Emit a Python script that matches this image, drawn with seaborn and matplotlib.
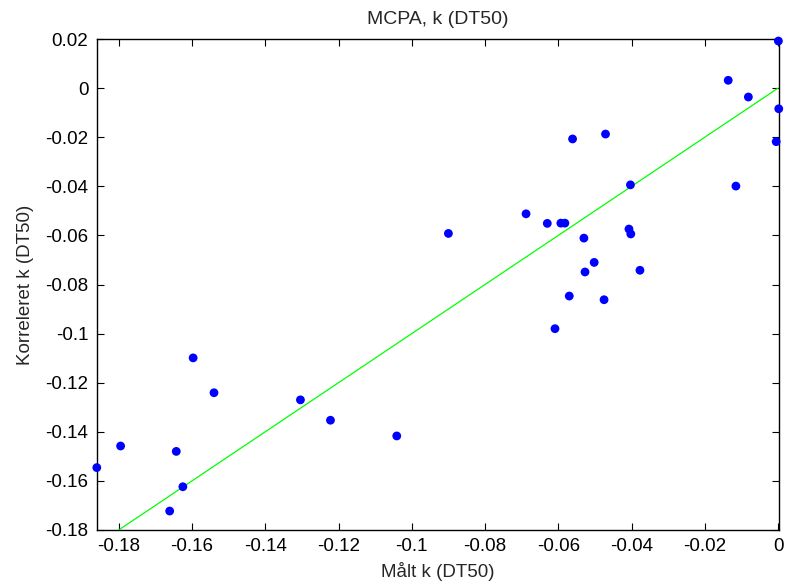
import matplotlib
matplotlib.use("Agg")
import matplotlib.pyplot as plt
import seaborn as sns
import pandas as pd

measured_k = [-0.186, -0.1795, -0.1597, -0.154, -0.1304, -0.1222, -0.1041, -0.1643,
              -0.1625, -0.1661, -0.090, -0.0688, -0.063, -0.0593, -0.0582, -0.0561,
              -0.0471, -0.0403, -0.053, -0.0407, -0.0402, -0.0502, -0.0527, -0.0377,
              -0.057, -0.0475, -0.0609, 0.0001, -0.0136, -0.0081, 0.0002, -0.0005,
              -0.0115]
correlated_k = [-0.1546, -0.1458, -0.1099, -0.1241, -0.1270, -0.1353, -0.1417, -0.1480,
                -0.1624, -0.1723, -0.0592, -0.0512, -0.0551, -0.0550, -0.0550, -0.0207,
                -0.0187, -0.0394, -0.0611, -0.0574, -0.0594, -0.0710, -0.0749, -0.0742,
                -0.0847, -0.0862, -0.0980, 0.0192, 0.0032, -0.0036, -0.0084, -0.0218,
                -0.0399]
line_x = [-0.18, 0.0]
line_y = [-0.18, 0.0]
x_ticks = [-0.18, -0.16, -0.14, -0.12, -0.1, -0.08, -0.06, -0.04, -0.02, 0]
x_labels = ["-0.18", "-0.16", "-0.14", "-0.12", "-0.1", "-0.08", "-0.06", "-0.04", "-0.02", "0"]
y_ticks = [0.02, 0, -0.02, -0.04, -0.06, -0.08, -0.1, -0.12, -0.14, -0.16, -0.18]
y_labels = ["0.02", "0", "-0.02", "-0.04", "-0.06", "-0.08", "-0.1", "-0.12", "-0.14", "-0.16", "-0.18"]

sns.set_style("ticks")
plt.rcParams["font.family"] = ["Liberation Sans", "DejaVu Sans"]
plt.rcParams["axes.unicode_minus"] = False

df = pd.DataFrame({"x": measured_k, "y": correlated_k})
line_df = pd.DataFrame({"x": line_x, "y": line_y})

fig = plt.figure(figsize=(7.87, 5.83), dpi=100)
ax = fig.add_axes([0.123, 0.091, 0.867, 0.842])

sns.lineplot(data=line_df, x="x", y="y", ax=ax, color="#00ff00", linewidth=0.9)
sns.scatterplot(data=df, x="x", y="y", ax=ax, color="#0000ff", s=40,
                edgecolor="none", zorder=3, clip_on=False)

ax.set_xlim(-0.186, 0.0003)
ax.set_ylim(-0.18, 0.02)
ax.set_xticks(x_ticks)
ax.set_xticklabels(x_labels)
ax.set_yticks(y_ticks)
ax.set_yticklabels(y_labels)
ax.tick_params(direction="in", length=5, width=0.8, labelsize=13.5,
               top=True, right=True, colors="black")
ax.tick_params(axis="y", pad=6)
ax.tick_params(axis="x", pad=6)
for s in ax.spines.values():
    s.set_visible(True)
    s.set_linewidth(1.0)
    s.set_color("black")
ax.set_xlabel("Målt k (DT50)", fontsize=13.5, labelpad=5)
ax.set_ylabel("Korreleret k (DT50)", fontsize=13.5, labelpad=8)
ax.set_title("MCPA, k (DT50)", fontsize=14, pad=11)

fig.savefig("out.png", dpi=100)
